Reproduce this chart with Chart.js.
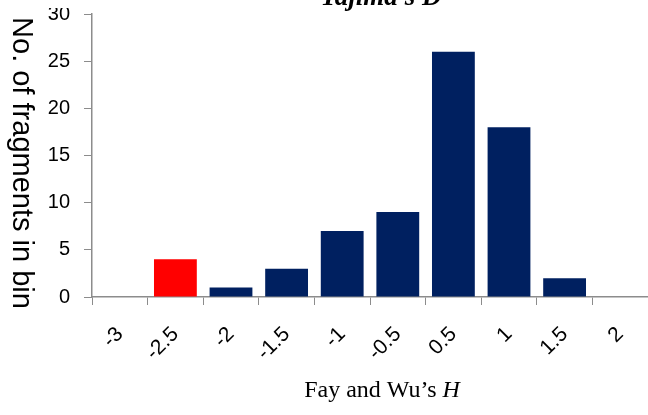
<!DOCTYPE html>
<html>
<head>
<meta charset="utf-8">
<script src="https://cdn.jsdelivr.net/npm/chart.js@4.4.0/dist/chart.umd.min.js"></script>
<style>
  html, body { margin: 0; padding: 0; background: #fff; }
  #wrap { width: 648px; height: 415px; position: relative; }
</style>
</head>
<body>
<div id="wrap"><canvas id="chart"></canvas></div>
<script>
// bins of Fay and Wu's H
const binLabels = ["-3", "-2.5", "-2", "-1.5", "-1", "-0.5", "0.5", "1", "1.5", "2"];
const fragmentCounts = [0, 4, 1, 3, 7, 9, 26, 18, 2, 0];
const yTicks = [0, 5, 10, 15, 20, 25, 30];

const navy = "#002060";
const highlight = "#ff0000";
const axisGray = "#8c8c8c";

// the -2.5 bin is marked in red
const barColors = binLabels.map(l => l === "-2.5" ? highlight : navy);

// titles drawn by hand: y title reads top to bottom, x title has italic H
const textPlugin = {
  id: "texts",
  afterDraw(chart) {
    const ctx = chart.ctx;
    ctx.save();
    // top of the picture is cropped in the reference
    ctx.fillStyle = "#fff";
    ctx.fillRect(30, 0, 45, 8);

    ctx.fillStyle = "#000";
    ctx.textBaseline = "alphabetic";

    // cropped top title
    ctx.font = "bold italic 27px 'Liberation Serif'";
    ctx.textAlign = "center";
    ctx.fillText("Tajima\u2019s D", 381, 5);

    // y axis title
    ctx.save();
    ctx.translate(13, 163);
    ctx.rotate(Math.PI / 2);
    ctx.font = "29px 'Liberation Sans'";
    ctx.fillText("No. of fragments in bin", 0, 0);
    ctx.restore();

    // x axis title
    const part1 = "Fay and Wu\u2019s ";
    const part2 = "H";
    ctx.textAlign = "left";
    ctx.font = "24px 'Liberation Serif'";
    const w1 = ctx.measureText(part1).width;
    ctx.font = "italic 24px 'Liberation Serif'";
    const w2 = ctx.measureText(part2).width;
    const x0 = 382 - (w1 + w2) / 2;
    ctx.font = "24px 'Liberation Serif'";
    ctx.fillText(part1, x0, 397);
    ctx.font = "italic 24px 'Liberation Serif'";
    ctx.fillText(part2, x0 + w1, 397);
    ctx.restore();
  }
};

new Chart(document.getElementById("chart"), {
  type: "bar",
  data: {
    labels: binLabels,
    datasets: [{
      data: fragmentCounts,
      backgroundColor: barColors,
      borderWidth: 0,
      barPercentage: 0.77,
      categoryPercentage: 1.0
    }]
  },
  options: {
    responsive: true,
    maintainAspectRatio: false,
    animation: false,
    layout: { padding: { top: 14, right: -4, left: 0, bottom: 0 } },
    plugins: {
      legend: { display: false },
      tooltip: { enabled: false }
    },
    scales: {
      x: {
        offset: true,
        grid: { offset: true, drawOnChartArea: false, tickLength: 8, color: axisGray },
        border: { color: axisGray, width: 1.5 },
        ticks: {
          minRotation: 45,
          maxRotation: 45,
          autoSkip: false,
          padding: 17,
          color: "#000",
          font: { family: "'Liberation Sans'", size: 21 }
        },
        afterFit: s => { s.height = 118; s.paddingLeft = 0; s.paddingRight = 0; }
      },
      y: {
        min: 0,
        max: 30,
        afterBuildTicks: s => { s.ticks = yTicks.map(v => ({ value: v })); },
        grid: { drawOnChartArea: false, tickLength: 8, color: axisGray },
        border: { color: axisGray, width: 1.5 },
        ticks: {
          padding: 14,
          color: "#000",
          font: { family: "'Liberation Sans'", size: 20 }
        },
        afterFit: s => { s.width = 92; s.paddingTop = 0; s.paddingBottom = 0; }
      }
    }
  },
  plugins: [textPlugin]
});
</script>
</body>
</html>
